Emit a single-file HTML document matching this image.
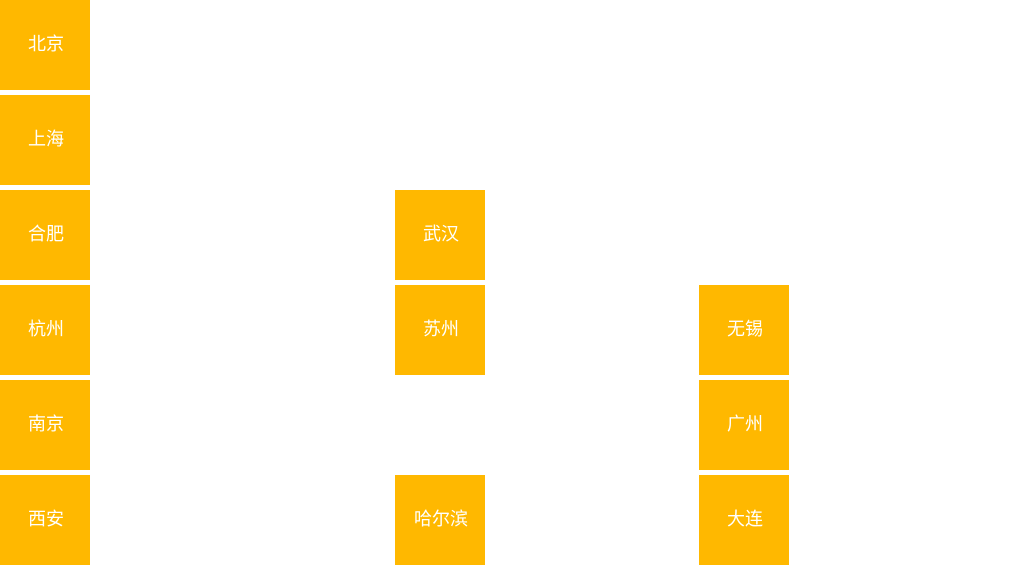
<!DOCTYPE html>
<html><head><meta charset="utf-8"><style>
html,body{margin:0;padding:0;width:1024px;height:565px;background:#fff;overflow:hidden;position:relative}
.b{position:absolute;width:90px;height:90px;background:#FFB800;color:#fff;display:flex;align-items:center;justify-content:center;font-family:"Liberation Sans","Noto Sans CJK SC",sans-serif;font-size:18px}
.b span{position:relative;top:-2px;left:1px}
</style></head><body>
<div class="b" style="left:0;top:0"><span>北京</span></div>
<div class="b" style="left:0;top:95px"><span>上海</span></div>
<div class="b" style="left:0;top:190px"><span>合肥</span></div>
<div class="b" style="left:0;top:285px"><span>杭州</span></div>
<div class="b" style="left:0;top:380px"><span>南京</span></div>
<div class="b" style="left:0;top:475px"><span>西安</span></div>
<div class="b" style="left:395px;top:190px"><span>武汉</span></div>
<div class="b" style="left:395px;top:285px"><span>苏州</span></div>
<div class="b" style="left:395px;top:475px"><span>哈尔滨</span></div>
<div class="b" style="left:699px;top:285px"><span>无锡</span></div>
<div class="b" style="left:699px;top:380px"><span>广州</span></div>
<div class="b" style="left:699px;top:475px"><span>大连</span></div>
</body></html>
